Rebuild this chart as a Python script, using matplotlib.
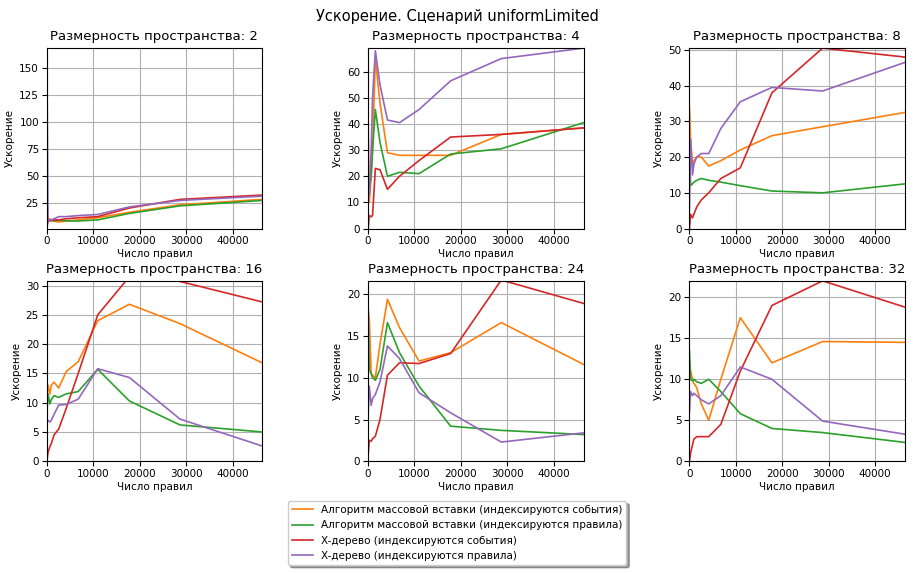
import matplotlib
matplotlib.use('Agg')
import matplotlib.pyplot as plt

rules = [50, 300, 700, 1000, 1600, 2600, 4200, 6800, 11000, 17800, 28700, 46400]
dims = [2, 4, 8, 16, 24, 32]
ylims = [(1, 168), (0, 69), (0, 50.5), (0, 30.8), (0, 21.6), (0, 22)]

labels = ["Алгоритм массовой вставки (индексируются события)",
          "Алгоритм массовой вставки (индексируются правила)",
          "X-дерево (индексируются события)",
          "X-дерево (индексируются правила)"]
colors = ["#ff7f0e", "#2ca02c", "#d62728", "#9467bd"]

bulk_events = [
    [28, 8, 10, 9, 8, 7, 8, 9, 11, 16, 23, 28],
    [41, 10, 20, 30, 65, 48, 29, 28, 28, 28, 36, 38.5],
    [34, 25, 18, 19, 20, 20, 17.5, 19, 22, 26, 28.5, 32.5],
    [11, 13, 11.5, 13, 13.5, 12.5, 15.3, 17, 24, 26.8, 23.5, 16.8],
    [18.3, 17, 10.5, 10.3, 10, 14, 19.4, 16, 12, 13, 16.6, 11.6],
    [12, 11, 10, 9.5, 9, 7, 5, 10, 17.5, 12, 14.6, 14.5],
]
bulk_rules = [
    [3, 10, 8, 9, 8, 9, 8, 8, 9, 15, 22, 27],
    [13, 15, 20, 30, 45.5, 33, 20, 21.5, 21, 28.5, 30.5, 40.5],
    [25, 12, 12.5, 13, 13.5, 14, 13.5, 13, 12, 10.5, 10, 12.5],
    [8, 11.5, 9.8, 10.5, 11.2, 10.9, 11.5, 11.9, 15.7, 10.3, 6.2, 5],
    [17.5, 11, 10.5, 10, 9.7, 11, 16.6, 13, 9, 4.2, 3.7, 3.2],
    [13.5, 10, 9.8, 10, 9.7, 9.5, 10, 8.5, 5.8, 4, 3.5, 2.3],
]
xtree_events = [
    [2, 8, 9, 8, 9, 9, 10, 11, 12, 20, 28, 32],
    [0, 5, 4.5, 5, 23, 22.5, 15, 20, 26, 35, 36, 38.5],
    [0, 4, 3, 4, 6, 8, 10, 14, 17, 38, 50.5, 48],
    [0, 1.5, 2.5, 3, 4.5, 5.5, 9, 15, 25, 31.5, 30.7, 27.2],
    [0.7, 2.5, 2.4, 2.7, 3, 5, 10.3, 11.8, 11.7, 12.9, 21.7, 18.9],
    [0, 1, 2, 2.7, 3, 3, 3, 4.5, 11, 19, 22, 18.8],
]
xtree_rules = [
    [168, 10, 8, 9, 10, 12, 12, 13, 14, 21, 27, 31],
    [20, 13, 30, 50, 68, 55, 41.5, 40.5, 45.5, 56.5, 65, 69],
    [5, 25, 15, 18, 20, 21, 21, 28, 35.5, 39.5, 38.5, 46.5],
    [6.5, 7, 6.7, 7, 8, 9.6, 9.7, 10.6, 15.8, 14.3, 7.2, 2.6],
    [5.7, 9, 6.7, 7.5, 8, 9.5, 13.8, 12.3, 8.2, 5.8, 2.3, 3.4],
    [6, 8.5, 8, 8.3, 8, 7.5, 7, 8, 11.5, 10, 4.9, 3.3],
]
series = [bulk_events, bulk_rules, xtree_events, xtree_rules]

fig, axes = plt.subplots(2, 3, figsize=(9.14, 5.73), dpi=100)
fig.subplots_adjust(left=0.051, right=0.99, bottom=0.195, top=0.916, wspace=0.49, hspace=0.29)
fig.suptitle("Ускорение. Сценарий uniformLimited", fontsize=10.5, y=0.985)

for k, ax in enumerate(axes.flat):
    for s, lab, c in zip(series, labels, colors):
        ax.plot(rules, s[k], color=c, label=lab, lw=1.2)
    ax.set_title(f"Размерность пространства: {dims[k]}", fontsize=9.5)
    ax.set_xlim(0, 46400)
    ax.set_ylim(*ylims[k])
    ax.set_xticks([0, 10000, 20000, 30000, 40000])
    ax.set_xlabel("Число правил", fontsize=7.5, labelpad=2)
    ax.set_ylabel("Ускорение", fontsize=7.5, labelpad=3)
    ax.tick_params(labelsize=7.5, pad=2)
    ax.grid(True)

h, l = axes[0, 0].get_legend_handles_labels()
fig.legend(h, l, loc='lower center', bbox_to_anchor=(0.5, 0.005), shadow=True, fontsize=7.5)
fig.savefig("out.png", dpi=100)
